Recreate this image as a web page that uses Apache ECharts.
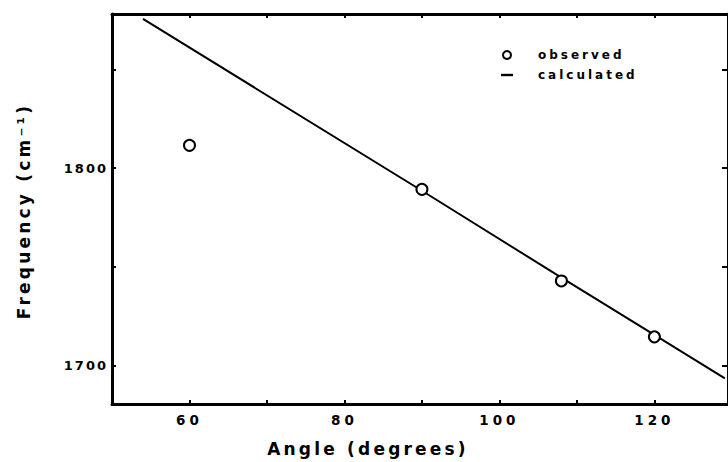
<!DOCTYPE html>
<html>
<head>
<meta charset="utf-8">
<script src="https://cdn.jsdelivr.net/npm/echarts@6/dist/echarts.min.js"></script>
<style>
html,body{margin:0;padding:0;background:#fff;}
#c{width:728px;height:462px;}
text[style*="13px"],text[font-size="13px"]{letter-spacing:2px;}
text[style*="13.5px"],text[font-size="13.5px"]{letter-spacing:4px;}
text[style*="12px"],text[font-size="12px"]{letter-spacing:3px;}
text[style*="17px"],text[font-size="17px"]{letter-spacing:3.2px;}
</style>
</head>
<body>
<div id="c"></div>
<script>
// Observed points
const obsAngle = [60, 90, 108, 120];
const obsFreq = [1811.5, 1789.2, 1742.8, 1714.5];
// Calculated line
const calcAngle = [54, 90, 108, 120, 129.1];
const calcFreq = [1875.5, 1788.5, 1744.5, 1715.5, 1693.5];
// Tick labels
const xLabels = [60, 80, 100, 120];
const xTicks = [60, 70, 80, 90, 100, 110, 120];
const yLabels = [1700, 1800];
const yTicks = [1700, 1750, 1800, 1850];
const xTitle = 'Angle (degrees)';
const yTitle = 'Frequency (cm\u207B\u00B9)';
const seriesNames = ['observed', 'calculated'];

const FONT = 'DejaVu Sans';
const chart = echarts.init(document.getElementById('c'), null, {renderer: 'svg'});

const axisLineStyle = {color: '#000', width: 3};
const tickStyle = {color: '#000', width: 2};
const plain = v => String(v);

chart.setOption({
  backgroundColor: '#fff',
  animation: false,
  grid: {left: 112, right: -4, top: 14, bottom: 58},
  legend: {
    orient: 'vertical',
    left: 496, top: 44,
    itemWidth: 12, itemHeight: 8, itemGap: 8,
    textStyle: {fontFamily: FONT, fontSize: 12, fontWeight: 'bold', color: '#000', lineHeight: 12, padding: [0, 0, 0, 20]},
    data: [
      {name: seriesNames[0], icon: 'circle', itemStyle: {color: '#fff', borderColor: '#000', borderWidth: 2}},
      {name: seriesNames[1], icon: 'path://M0,0H10V2H0Z', itemStyle: {color: '#000', borderWidth: 0}, lineStyle: {width: 0}}
    ]
  },
  xAxis: [
    {
      type: 'value', position: 'bottom', min: 50, max: 129.5, interval: 10,
      axisLine: {show: true, onZero: false, lineStyle: axisLineStyle},
      axisTick: {show: true, inside: true, length: 4, lineStyle: tickStyle, customValues: xTicks},
      axisLabel: {show: true, margin: 9, customValues: xLabels, formatter: plain, fontFamily: FONT, fontSize: 13.5, fontWeight: 'bold', color: '#000'},
      splitLine: {show: false}
    },
    {
      type: 'value', position: 'top', min: 50, max: 129.5, interval: 10,
      axisLine: {show: true, onZero: false, lineStyle: axisLineStyle},
      axisTick: {show: true, inside: true, length: 4, lineStyle: tickStyle, customValues: xTicks},
      axisLabel: {show: false},
      splitLine: {show: false}
    }
  ],
  yAxis: [
    {
      type: 'value', position: 'left', min: 1680.5, max: 1878,
      axisLine: {show: true, onZero: false, lineStyle: axisLineStyle},
      axisTick: {show: true, inside: true, length: 4, lineStyle: tickStyle, customValues: yTicks},
      axisLabel: {show: true, margin: 4, customValues: yLabels, formatter: plain, fontFamily: FONT, fontSize: 13, fontWeight: 'bold', color: '#000'},
      splitLine: {show: false}
    },
    {
      type: 'value', position: 'right', min: 1680.5, max: 1878,
      axisLine: {show: true, onZero: false, lineStyle: axisLineStyle},
      axisTick: {show: true, inside: true, length: 6, lineStyle: tickStyle, customValues: yTicks},
      axisLabel: {show: false},
      splitLine: {show: false}
    }
  ],
  graphic: [
    {
      type: 'text', x: 368, y: 449,
      style: {text: xTitle, fill: '#000', font: 'bold 17px "' + FONT + '"', align: 'center', verticalAlign: 'middle'}
    },
    {
      type: 'text', x: 24, y: 211, rotation: Math.PI / 2,
      style: {text: yTitle, fill: '#000', font: 'bold 17px "' + FONT + '"', align: 'center', verticalAlign: 'middle'}
    }
  ],
  series: [
    {
      name: seriesNames[1], type: 'line', xAxisIndex: 0, yAxisIndex: 0,
      data: calcAngle.map((a, i) => [a, calcFreq[i]]),
      showSymbol: false, symbol: 'none',
      lineStyle: {color: '#000', width: 2},
      itemStyle: {color: '#000'},
      z: 2
    },
    {
      name: seriesNames[0], type: 'scatter', xAxisIndex: 0, yAxisIndex: 0,
      data: obsAngle.map((a, i) => [a, obsFreq[i]]),
      symbol: 'circle', symbolSize: 11,
      itemStyle: {color: '#fff', borderColor: '#000', borderWidth: 2, opacity: 1},
      z: 3
    }
  ]
});
</script>
</body>
</html>
